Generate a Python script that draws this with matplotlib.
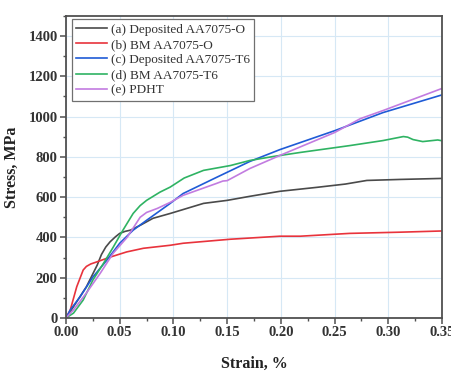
import matplotlib
matplotlib.use("Agg")
import matplotlib.pyplot as plt
from matplotlib.ticker import MultipleLocator

# Stress-strain curves (strain in %, stress in MPa)
strain_a = [0.0, 0.007, 0.019, 0.029, 0.033, 0.037, 0.041, 0.046, 0.050, 0.055, 0.060,
            0.069, 0.081, 0.097, 0.128, 0.150, 0.171, 0.199, 0.234, 0.260, 0.280,
            0.311, 0.350]
stress_a = [0, 56, 155, 262, 315, 352, 378, 403, 420, 430, 436,
            460, 495, 519, 569, 584, 604, 629, 649, 665, 683,
            688, 693]

strain_b = [0.0, 0.004, 0.010, 0.016, 0.019, 0.023, 0.029, 0.041, 0.0565, 0.072,
            0.097, 0.109, 0.153, 0.199, 0.218, 0.264, 0.311, 0.350]
stress_b = [0, 40, 155, 238, 256, 268, 279, 302, 328, 346,
            361, 371, 391, 406, 406, 420, 426, 432]

strain_c = [0.0, 0.004, 0.013, 0.025, 0.038, 0.050, 0.0625, 0.075, 0.097, 0.109,
            0.140, 0.171, 0.199, 0.250, 0.295, 0.350]
stress_c = [0, 40, 104, 203, 287, 371, 436, 485, 569, 618,
            698, 777, 836, 930, 1020, 1108]

strain_d = [0.0, 0.007, 0.016, 0.025, 0.035, 0.044, 0.053, 0.0625, 0.069, 0.075,
            0.0875, 0.097, 0.110, 0.128, 0.153, 0.171, 0.193, 0.218, 0.264, 0.295,
            0.314, 0.318, 0.323, 0.332, 0.346, 0.350]
stress_d = [0, 24, 89, 188, 272, 352, 436, 519, 558, 584,
            625, 650, 695, 733, 757, 782, 802, 822, 856, 881,
            901, 898, 886, 876, 884, 880]

strain_e = [0.0, 0.007, 0.019, 0.032, 0.044, 0.057, 0.069, 0.075, 0.085, 0.097,
            0.109, 0.140, 0.146, 0.150, 0.171, 0.199, 0.250, 0.274, 0.295, 0.327,
            0.350]
stress_e = [0, 40, 124, 223, 322, 401, 500, 524, 544, 574,
            609, 668, 680, 682, 742, 807, 921, 990, 1030, 1094,
            1140]

labels = ["(a) Deposited AA7075-O", "(b) BM AA7075-O", "(c) Deposited AA7075-T6",
          "(d) BM AA7075-T6", "(e) PDHT"]
colors = ["#4a4a4a", "#e8333c", "#1f5bd6", "#2fb363", "#c27ce0"]

series = [(strain_a, stress_a), (strain_b, stress_b), (strain_c, stress_c),
          (strain_d, stress_d), (strain_e, stress_e)]

plt.rcParams["font.family"] = "Liberation Serif"

fig = plt.figure(figsize=(4.52, 3.71), dpi=100)
ax = fig.add_axes([0.146, 0.143, 0.832, 0.814])

for (x, y), lab, c in zip(series, labels, colors):
    ax.plot(x, y, color=c, lw=1.2, label=lab, solid_joinstyle="round")

ax.set_xlim(0, 0.35)
ax.set_ylim(0, 1500)
ax.xaxis.set_minor_locator(MultipleLocator(0.025))
ax.yaxis.set_major_locator(MultipleLocator(200))
ax.yaxis.set_minor_locator(MultipleLocator(100))
ax.set_xticks([0, 0.05, 0.10, 0.15, 0.20, 0.25, 0.30, 0.35])
ax.set_xticklabels(["0.00", "0.05", "0.10", "0.15", "0.20", "0.25", "0.30", "0.35"])

ax.grid(True, which="major", color="#d6e8f5", lw=0.8)
ax.set_axisbelow(True)

for s in ax.spines.values():
    s.set_color("#505050")
    s.set_linewidth(1.3)
ax.tick_params(which="major", direction="out", length=4, width=1.1, color="#505050",
               labelsize=10.5, pad=2)
ax.tick_params(which="minor", direction="out", length=2.5, width=1.0, color="#505050")
ax.tick_params(top=False, right=False)
for t in ax.get_xticklabels() + ax.get_yticklabels():
    t.set_fontweight("bold")
    t.set_color("#333333")

ax.set_xlabel("Strain, %", fontsize=11.5, fontweight="bold", labelpad=12, color="#222222")
ax.set_ylabel("Stress, MPa", fontsize=11.5, fontweight="bold", labelpad=6, color="#222222")

leg = ax.legend(loc="upper left", bbox_to_anchor=(0.015, 0.99), borderaxespad=0,
                fontsize=9.5, handlelength=2.3, handletextpad=0.3, labelspacing=0.22,
                borderpad=0.35, fancybox=False, framealpha=1)
leg.get_frame().set_edgecolor("#707070")
leg.get_frame().set_linewidth(0.9)
for t in leg.get_texts():
    t.set_color("#333333")

fig.savefig("out.png", dpi=100)
